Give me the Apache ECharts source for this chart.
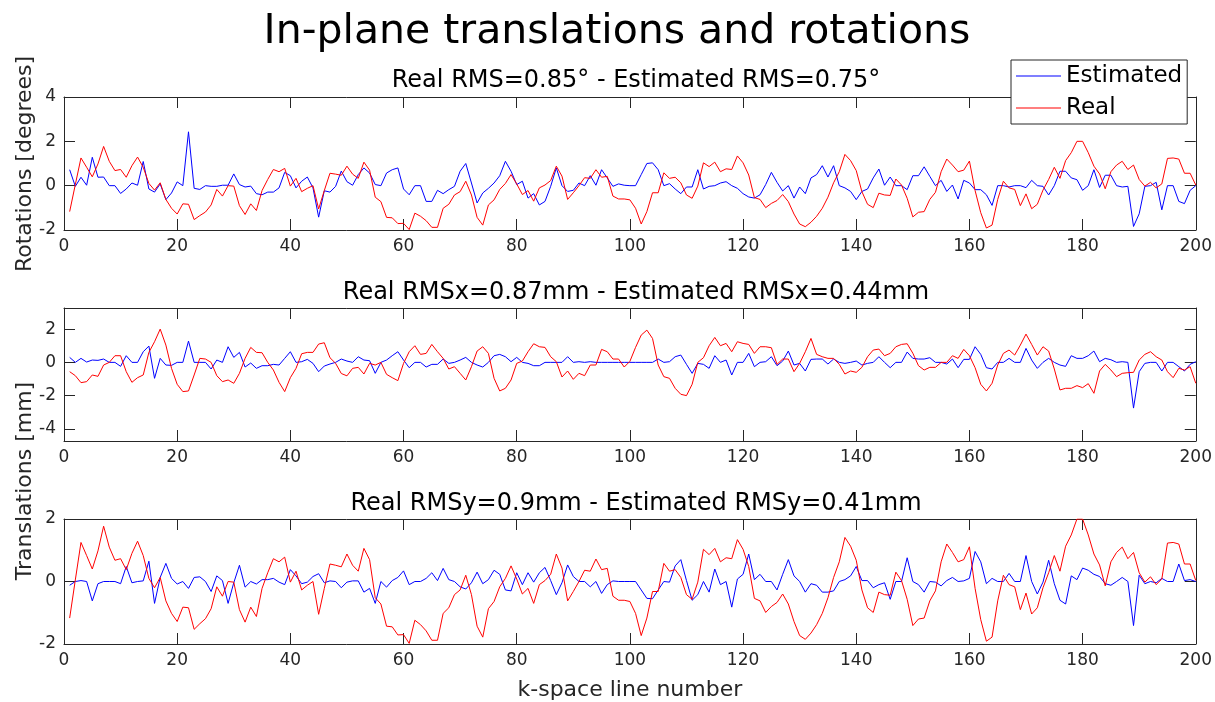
<!DOCTYPE html>
<html>
<head>
<meta charset="utf-8">
<title>In-plane translations and rotations</title>
<script src="https://cdn.jsdelivr.net/npm/echarts@6/dist/echarts.min.js"></script>
<style>
html, body { margin: 0; padding: 0; background: #fff; }
#chart { width: 1215px; height: 702px; }
</style>
</head>
<body>
<div id="chart"></div>
<script>
// values, one per k-space line (1..200)
var estRot = [0.72,-0.03,0.38,0.02,1.28,0.38,0.39,0,0,-0.35,-0.15,0.12,0.02,1.09,-0.15,-0.29,0.08,-0.63,-0.33,0.17,
  0,2.43,-0.12,-0.17,0,-0.03,-0.03,0.02,0.02,0.53,0.05,-0.06,-0.02,-0.36,-0.41,-0.29,-0.29,-0.1,0.6,0.45,
  -0.1,0.2,0.39,-0.1,-1.42,-0.23,-0.29,-0.03,0.66,0.18,0.02,0.5,0.8,0.57,0.05,0,0.57,0.72,0.8,-0.15,
  -0.41,0,0,-0.71,-0.71,-0.21,-0.36,-0.18,-0.03,0.65,1.0,0.12,-0.78,-0.33,-0.12,0.12,0.45,1.1,0.65,0.05,
  0.2,-0.56,-0.36,-0.87,-0.71,-0.03,0.8,0,-0.26,-0.21,0.12,0,0.45,0.02,0.72,0.35,-0.03,0.08,0.02,0,
  0,0.5,1.0,1.03,0.72,0,0.09,-0.15,-0.36,-0.06,-0.06,0.72,-0.15,-0.03,0,0.12,0.18,0,-0.12,-0.36,
  -0.51,-0.56,-0.41,0.05,0.6,0.15,-0.24,0,-0.56,-0.06,-0.36,0.35,0.5,0.9,0.39,0.9,0,-0.1,-0.26,-0.63,
  -0.26,-0.15,0.35,0.75,0.02,0.39,0,0,-0.18,0.45,0.45,0.85,0.42,0,0.24,-0.26,0.03,-0.6,0.24,0.12,
  -0.18,-0.18,-0.41,-0.89,0,0,-0.06,0,0,-0.09,0.24,0,-0.03,-0.42,0,0.65,0.65,0.35,0.27,-0.21,
  0,0.72,-0.08,0.47,0.47,0,-0.06,-0.03,-1.84,-1.27,-0.03,0,0.15,-1.09,0,0,-0.71,-0.81,-0.21,0];

var realRot = [-1.17,0.05,1.25,0.83,0.4,0.98,1.77,1.1,0.68,0.73,0.38,0.9,1.29,0.83,0.1,-0.2,0.13,-0.62,-1.02,-1.28,
  -0.82,-0.84,-1.53,-1.35,-1.19,-0.87,-0.17,-0.47,0,-0.02,-0.9,-1.3,-0.82,-1.12,-0.22,0.28,0.73,0.63,0.78,-0.02,
  0.33,-0.27,-0.12,0,-1.05,-0.22,0.56,0.52,0.47,0.88,0.52,0.33,1.06,0.7,-0.52,-0.72,-1.43,-1.45,-1.71,-1.7,
  -1.98,-1.24,-1.38,-1.58,-1.88,-1.88,-1.02,-0.84,-0.42,-0.27,0.2,-0.42,-1.43,-1.78,-0.87,-0.64,-0.17,0.1,0.5,0.08,
  -0.4,-0.22,-0.7,-0.1,0.03,0.23,0.88,0.43,-0.62,-0.32,0,0.36,0.33,0.72,0.38,0.42,-0.47,-0.6,-0.6,-0.64,
  -1.02,-1.73,-1.17,-0.32,-0.32,0.58,0.33,0.38,0.13,-0.42,-0.57,-0.02,1.03,0.86,1.06,0.63,0.76,0.73,1.34,1.03,
  0.48,-0.54,-0.62,-0.99,-0.8,-0.67,-0.4,-0.72,-1.28,-1.73,-1.85,-1.65,-1.38,-1.02,-0.52,0.13,0.63,1.41,1.13,0.68,
  -0.27,-0.84,-0.99,-0.34,-0.42,-0.44,0.3,0.03,-0.57,-1.41,-1.2,-1.17,-0.62,-0.3,0.63,1.2,0.93,0.63,0.7,1.11,
  -0.22,-1.22,-1.91,-1.78,-0.62,0.2,-0.1,-0.17,-0.9,-0.37,-1.04,-0.84,-0.2,0.28,0.83,0.33,1.13,1.49,2.0,2.0,
  1.49,0.88,0.53,-0.14,0.63,0.93,1.1,0.73,0.93,0.28,-0.02,0.15,-0.1,0.08,1.23,1.25,1.2,0.56,0.56,0.03];

var estX = [0.3,0,0.24,0.02,0.14,0.12,0.2,0,0,-0.24,0.4,0,0,0.64,0.98,-0.96,0.24,-0.16,-0.18,0,
  0,1.28,0,0,0,-0.4,0.14,0,0.94,0.3,0.6,-0.28,-0.04,-0.36,-0.2,-0.2,-0.12,-0.16,0.24,0.64,
  0,0.04,0.18,-0.06,-0.56,-0.22,-0.1,0,0.2,0.08,0,0.34,0.14,0.1,-0.66,0,0.14,0.4,0.64,0.14,
  -0.32,0,0,-0.28,-0.12,-0.12,0.2,-0.06,0,0.14,0.3,0,-0.16,-0.28,0,0.4,0.48,0.34,0.04,0.3,
  0,-0.06,-0.2,-0.2,0,0,0,0,0.34,0,0.04,0,0.04,0,0,0,0,0,0,0,
  0,0,0,0,0.2,0,0.04,0.34,0.44,-0.12,-0.66,-0.06,-0.12,-0.36,0.4,0,0.14,-0.76,0,0,
  0.54,-0.26,0,0.04,0.34,-0.2,0.08,0.68,-0.16,-0.06,-0.52,0.18,0.2,0.2,-0.1,0.2,0,-0.06,0,0.08,
  -0.16,-0.06,0,0.34,0,-0.32,0,0,0.62,0.24,0.2,0.2,0.28,0,0,-0.1,0.2,-0.32,0.18,0.18,
  0.94,0.48,-0.32,-0.4,0,0,0.24,0,0,0.84,0.14,-0.36,0,0.24,0,-0.16,-0.24,0.4,0.24,0.24,
  0.4,0.68,0.04,0.24,0.16,0,0.04,0,-2.75,-0.56,-0.06,0,0,-0.52,0,0,-0.26,-0.52,-0.12,0.04];

var realX = [-0.56,-0.8,-1.22,-1.16,-0.76,-0.84,-0.16,0,0.4,0.4,-0.56,-1.2,-0.92,-0.76,0.6,1.24,2.0,1.04,-0.36,-1.32,
  -1.76,-1.72,-0.76,0.24,0.2,0,-0.8,-1.16,-1.06,-1.26,-0.66,0.24,0.9,0.6,0.58,0,-0.46,-1.2,-1.76,-0.92,
  -0.36,0.52,0.6,0.6,1.1,1.18,0.28,-0.06,-0.67,-0.81,-0.36,-0.3,-0.7,-0.06,-0.16,0,-0.72,-0.92,-1.1,-0.06,
  0.64,1.0,0.48,0.54,1.08,0.64,0.24,-0.4,-0.26,-0.66,-1.06,-0.26,0.68,0.94,0.54,-0.96,-1.72,-1.56,-1.06,-0.06,
  0.08,0.64,1.12,0.94,0.9,0.34,0.04,-0.88,-0.52,-1.02,-0.66,-0.8,-0.16,-0.16,0.78,0.64,0.2,0.2,-0.28,0.06,
  0.9,1.64,1.94,1.44,-0.16,-0.86,-0.96,-1.56,-1.92,-2.0,-1.32,0,0.28,1.0,1.5,1.0,1.14,0.64,1.24,1.14,
  1.08,0.54,0.94,0.94,0.88,-0.12,0.2,0.2,-0.56,-0.06,0.64,1.44,0.48,0.34,0.24,0.24,-0.12,-0.7,-0.52,-0.6,
  -0.3,0.34,0.74,0.8,0.4,0.54,0.94,1.08,1.12,0.55,-0.2,-0.46,-0.3,-0.3,0,0,0.4,0.24,0.78,0.4,
  -0.32,-1.32,-1.72,-1.26,-0.16,0.54,0.74,0.44,1.04,1.7,1.08,0.44,0.94,0.68,-0.4,-1.66,-1.56,-1.56,-1.4,-1.52,
  -1.28,-1.86,-0.52,-0.12,-0.46,-0.86,-0.66,-0.62,-0.6,0.14,0.48,0.64,0.34,0.14,-0.56,-0.92,-0.36,-0.46,-0.26,-1.26];

var estY = [-0.12,0,0.03,0,-0.62,-0.07,0,0,0,-0.07,0.48,-0.04,0,0.02,0.65,-0.7,0.13,0.58,0.1,-0.08,
  0,-0.22,0.13,0.15,0,-0.32,0.18,0.03,-0.7,-0.04,0.52,-0.18,0,-0.08,0.06,0.06,0.1,-0.02,-0.1,0.38,
  0.18,-0.07,-0.02,0.16,0.25,-0.04,0.02,0,-0.2,-0.02,0.02,0.02,-0.34,-0.22,-0.7,0,-0.18,0.03,0.13,0.34,
  -0.1,0,0,0.1,0.28,0.03,0.42,0.06,0,-0.17,-0.24,-0.04,0.3,-0.07,0.06,0.36,0.23,-0.27,-0.3,0.28,
  -0.1,0.28,-0.02,0.28,0.45,0.03,-0.42,-0.04,0.53,0.16,0,0,-0.17,0,-0.38,-0.1,0.02,0,0,0,
  0,-0.27,-0.54,-0.55,-0.27,0,-0.02,0.5,0.7,0.03,-0.6,-0.42,0,-0.34,0.4,-0.1,0,-0.82,0.08,0.23,
  0.88,0.06,0.23,0,0,-0.27,0.23,0.7,0.18,0,-0.34,-0.07,-0.12,-0.34,-0.34,-0.3,0,0.06,0.18,0.48,
  0.03,0.03,-0.2,-0.1,-0.04,-0.57,0,0,0.76,0,-0.1,-0.34,0,-0.02,-0.14,0.03,0.13,0,0.02,0.1,
  0.96,0.63,-0.07,0.1,0,0,0.26,0,0,0.83,0,-0.4,-0.02,0.68,-0.07,-0.6,-0.72,0.18,0.06,0.43,
  0.36,0.23,0.16,-0.07,-0.12,0,0.13,0,-1.41,0.2,-0.07,0,-0.04,0.1,0,0,0.56,0.03,0.06,0];

// the real trace in the bottom panel is the same one as in the top panel
var realY = realRot.slice();

var yTicksRot = [-2, 0, 2, 4];
var yTicksX = [-4, -2, 0, 2];
var yTicksY = [-2, 0, 2];

var titleMain = 'In-plane translations and rotations';
var titlesSub = ['Real RMS=0.85° - Estimated RMS=0.75°',
                 'Real RMSx=0.87mm - Estimated RMSx=0.44mm',
                 'Real RMSy=0.9mm - Estimated RMSy=0.41mm'];

var FONT = 'DejaVu Sans';
var AX = '#262626';
var BLUE = '#0000ff';
var RED = '#ff0000';

function pts(arr) {
  return arr.map(function (v, i) { return [i + 1, v]; });
}

var grids = [
  {left: 64, right: 17, top: 97, height: 133},
  {left: 64, right: 17, top: 308, height: 133},
  {left: 64, right: 17, top: 519, height: 133}
];
var ylims = [[-2, 4], [-4.73, 3.27], [-2, 2]];
var yticks = [yTicksRot, yTicksX, yTicksY];

var xAxes = [], yAxes = [];
grids.forEach(function (g, k) {
  var tick = {inside: true, length: 11, lineStyle: {color: AX, width: 1}};
  xAxes.push({
    gridIndex: k, type: 'value', min: 0, max: 200, interval: 20,
    axisLine: {onZero: false, lineStyle: {color: AX, width: 1}},
    axisTick: tick,
    axisLabel: {fontSize: 17, color: AX, fontFamily: FONT, margin: 8},
    splitLine: {show: false},
    name: k === 2 ? 'k-space line number' : '',
    nameLocation: 'middle', nameGap: 35,
    nameTextStyle: {fontSize: 22, color: AX, fontFamily: FONT}
  });
  xAxes.push({
    gridIndex: k, type: 'value', position: 'top', min: 0, max: 200, interval: 20,
    axisLine: {onZero: false, lineStyle: {color: AX, width: 1}},
    axisTick: tick, axisLabel: {show: false}, splitLine: {show: false}
  });
  yAxes.push({
    gridIndex: k, type: 'value', min: ylims[k][0], max: ylims[k][1],
    axisLine: {show: true, onZero: false, lineStyle: {color: AX, width: 1}},
    axisTick: {inside: true, length: 11, lineStyle: {color: AX}, customValues: yticks[k]},
    axisLabel: {fontSize: 17, color: AX, fontFamily: FONT, margin: 8, customValues: yticks[k]},
    splitLine: {show: false}
  });
  yAxes.push({
    gridIndex: k, type: 'value', position: 'right', min: ylims[k][0], max: ylims[k][1],
    axisLine: {show: true, onZero: false, lineStyle: {color: AX, width: 1}},
    axisTick: {inside: true, length: 11, lineStyle: {color: AX}, customValues: yticks[k]},
    axisLabel: {show: false}, splitLine: {show: false}
  });
});

function line(name, arr, k, color) {
  return {
    name: name, type: 'line', xAxisIndex: 2 * k, yAxisIndex: 2 * k,
    data: pts(arr), symbol: 'none', clip: true,
    lineStyle: {color: color, width: 1}, itemStyle: {color: color}
  };
}

var series = [
  line('Estimated', estRot, 0, BLUE), line('Real', realRot, 0, RED),
  line('Estimated', estX, 1, BLUE), line('Real', realX, 1, RED),
  line('Estimated', estY, 2, BLUE), line('Real', realY, 2, RED)
];

var titleTops = [64, 276, 487];
var titles = [{
  text: titleMain, left: 612, top: 7, textAlign: 'center',
  textStyle: {fontSize: 41, fontWeight: 'normal', color: '#000', fontFamily: FONT}
}];
titlesSub.forEach(function (t, k) {
  titles.push({
    text: t, left: 631, top: titleTops[k], textAlign: 'center',
    textStyle: {fontSize: 24, fontWeight: 'normal', color: '#000', fontFamily: FONT}
  });
});

var chart = echarts.init(document.getElementById('chart'));
chart.setOption({
  animation: false,
  backgroundColor: '#fff',
  title: titles,
  grid: grids,
  xAxis: xAxes,
  yAxis: yAxes,
  legend: {
    data: ['Estimated', 'Real'], orient: 'vertical', icon: 'rect',
    left: 1011, top: 60, itemWidth: 45, itemHeight: 1, itemGap: 6,
    padding: [3, 5, 3, 5], borderColor: AX, borderWidth: 1, backgroundColor: '#fff',
    textStyle: {fontSize: 23, color: '#000', fontFamily: FONT, lineHeight: 26},
    z: 10
  },
  graphic: [
    {type: 'text', x: 25, y: 164, rotation: Math.PI / 2,
     style: {text: 'Rotations [degrees]', fontSize: 22, fontFamily: FONT, fill: AX, align: 'center', verticalAlign: 'middle'}},
    {type: 'text', x: 25, y: 481, rotation: Math.PI / 2,
     style: {text: 'Translations [mm]', fontSize: 22, fontFamily: FONT, fill: AX, align: 'center', verticalAlign: 'middle'}}
  ],
  series: series
});
</script>
</body>
</html>
